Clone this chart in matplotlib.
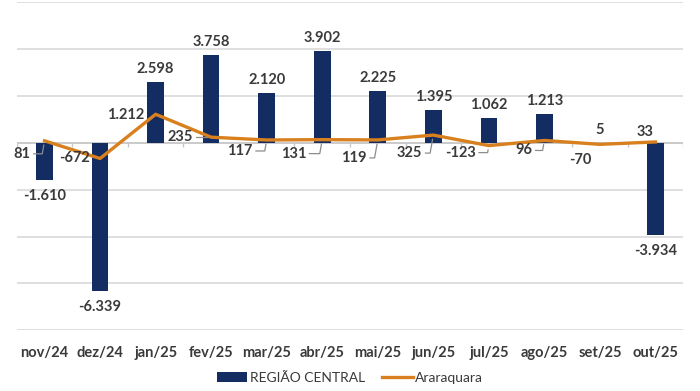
import matplotlib
matplotlib.use('Agg')
import matplotlib.pyplot as plt
import numpy as np

months = ['nov/24', 'dez/24', 'jan/25', 'fev/25', 'mar/25', 'abr/25',
          'mai/25', 'jun/25', 'jul/25', 'ago/25', 'set/25', 'out/25']
regiao_central = [-1610, -6339, 2598, 3758, 2120, 3902, 2225, 1395, 1062, 1213, 5, -3934]
araraquara = [81, -672, 1212, 235, 117, 131, 119, 325, -123, 96, -70, 33]

# label offsets (pixels) for the line labels, and whether a leader line is drawn
line_label_offsets = [(-14, -13), (-10, 0), (-11, -1), (-18, 0), (-14, -11), (-16, -14),
                      (-11, -18), (-11, -18), (-13, -7), (-12, -10), (-20, -16), (-10, 10)]
leaders = [True, False, False, True, True, True, True, True, True, True, False, False]

NAVY = '#132D62'
ORANGE = '#D9801E'
TEXT = '#3A3A3A'

plt.rcParams['font.family'] = ['Lato', 'DejaVu Sans']


def fmt(v):
    # brazilian thousands separator
    return f"{v:,}".replace(',', '.')


fig = plt.figure(figsize=(7, 3.91), dpi=100)
ax = fig.add_axes([0.024, 0.155, 0.952, 0.84])

x = np.arange(len(months))
bars = ax.bar(x, regiao_central, width=0.3, color=NAVY, zorder=2, label='REGIÃO CENTRAL')
line, = ax.plot(x, araraquara, color=ORANGE, lw=2.4, zorder=3, label='Araraquara')

ax.set_xlim(-0.5, len(months) - 0.5)
ax.set_ylim(-8000, 6000)
ax.set_yticks(np.arange(-8000, 6001, 2000))
ax.yaxis.grid(True, color='#D9D9D9', lw=1.2)
ax.set_axisbelow(True)
ax.tick_params(axis='y', left=False, labelleft=False)
ax.tick_params(axis='x', bottom=False, labelsize=10.5, labelcolor=TEXT, pad=8)
ax.set_xticks(x)
ax.set_xticklabels(months, fontweight='bold')
for s in ax.spines.values():
    s.set_visible(False)

# category axis at zero with small boundary ticks
ax.axhline(0, color='#C8C8C8', lw=1.2, zorder=1)
ax.vlines(np.arange(-0.5, len(months)), -170, 0, color='#C8C8C8', lw=1, zorder=1)

# bar labels
for xi, v in zip(x, regiao_central):
    if v >= 0:
        ax.annotate(fmt(v), (xi, v), xytext=(0, 6), textcoords='offset pixels',
                    ha='center', va='bottom', fontsize=10.5, fontweight='bold', color=TEXT)
    else:
        ax.annotate(fmt(v), (xi, v), xytext=(0, -9), textcoords='offset pixels',
                    ha='center', va='top', fontsize=10.5, fontweight='bold', color=TEXT)

# line labels with small leader lines
for xi, v, off, lead in zip(x, araraquara, line_label_offsets, leaders):
    ha = 'center' if off[1] > 0 or xi == 10 else 'right'
    ax.annotate(fmt(v), (xi, v), xytext=off, textcoords='offset pixels',
                ha=ha, va='center', fontsize=10.5, fontweight='bold', color=TEXT, zorder=4)
    if lead:
        ax.annotate('', (xi, v), xytext=(off[0] + 3, off[1]), textcoords='offset pixels',
                    arrowprops=dict(arrowstyle='-', color='#8C8C8C', lw=0.9,
                                    shrinkA=0, shrinkB=3,
                                    connectionstyle='angle,angleA=0,angleB=80,rad=0'),
                    zorder=4)

fig.legend([bars, line], ['REGIÃO CENTRAL', 'Araraquara'],
           loc='center', bbox_to_anchor=(0.5, 0.033), ncol=2, frameon=False,
           fontsize=10, handlelength=2.2, handleheight=0.7, columnspacing=1.2,
           handletextpad=0.2, labelcolor=TEXT)

fig.savefig('out.png', dpi=100)
